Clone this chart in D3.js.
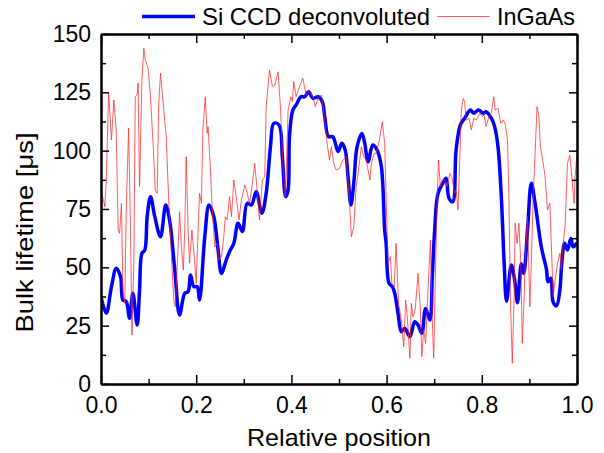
<!DOCTYPE html>
<html>
<head>
<meta charset="utf-8">
<script src="https://cdn.jsdelivr.net/npm/d3@7"></script>
<style>
  html, body { margin: 0; padding: 0; background: #fff; }
  svg { display: block; font-family: "Liberation Sans", Arial, sans-serif; }
</style>
</head>
<body>
<svg id="chart" width="604" height="453"></svg>
<script>
// ---- data ----
const seriesNames = ["Si CCD deconvoluted", "InGaAs"];
const xTicks = [0.0, 0.2, 0.4, 0.6, 0.8, 1.0];
const xMinorTicks = [0.1, 0.3, 0.5, 0.7, 0.9];
const yTicks = [0, 25, 50, 75, 100, 125, 150];
const yMinorTicks = [12.5, 37.5, 62.5, 87.5, 112.5, 137.5];

const siPos = [0.000,0.011,0.022,0.032,0.041,0.046,0.053,0.060,0.067,0.076,0.081,0.086,0.092,0.097,0.104,0.113,0.125,0.136,0.144,0.155,0.165,0.176,0.183,0.188,0.195,0.202,0.207,0.218,0.227,0.237,0.246,0.253,0.263,0.270,0.279,0.288,0.297,0.307,0.316,0.326,0.338,0.347,0.356,0.363,0.374,0.381,0.388,0.393,0.396,0.403,0.410,0.420,0.428,0.436,0.445,0.456,0.465,0.470,0.478,0.487,0.498,0.506,0.513,0.519,0.525,0.531,0.538,0.548,0.554,0.561,0.571,0.580,0.589,0.596,0.599,0.605,0.612,0.617,0.624,0.631,0.638,0.649,0.659,0.666,0.674,0.682,0.691,0.696,0.701,0.708,0.718,0.725,0.731,0.739,0.746,0.755,0.764,0.776,0.783,0.793,0.803,0.809,0.820,0.827,0.834,0.841,0.847,0.852,0.862,0.869,0.875,0.883,0.888,0.896,0.904,0.912,0.925,0.936,0.939,0.945,0.950,0.957,0.964,0.968,0.974,0.980,0.987,0.992,1.000];
const siLife = [37.4,30.3,41.7,49.6,46.0,36.0,35.3,28.2,38.9,25.3,40.3,56.0,57.4,71.7,80.3,71.7,63.1,76.7,70.3,48.9,29.6,38.9,39.6,46.7,41.7,41.7,36.0,63.1,76.7,71.7,57.4,47.4,53.1,56.7,60.3,68.9,65.3,77.4,76.7,82.4,73.2,81.7,101.7,111.7,111.0,97.4,80.3,83.1,106.0,117.4,119.6,123.1,123.1,125.3,122.4,123.1,121.0,114.6,106.0,106.0,99.6,103.2,100.3,88.8,76.7,86.0,101.7,107.4,103.2,95.3,102.4,100.3,93.1,66.0,60.3,43.2,41.7,38.9,30.3,22.4,23.9,20.3,26.7,25.3,21.7,32.4,27.4,46.0,66.0,81.7,86.0,88.2,79.6,78.1,100.3,111.0,113.9,117.4,116.0,117.4,116.0,116.7,113.9,110.3,101.7,80.3,51.7,35.5,51.0,44.6,34.8,51.5,47.4,66.0,86.0,77.4,58.8,48.9,43.8,45.3,35.0,33.5,40.3,51.7,60.3,57.4,62.4,58.8,60.5];

const ingaasPos = [0.000,0.002,0.008,0.011,0.016,0.022,0.027,0.032,0.036,0.039,0.043,0.046,0.050,0.053,0.058,0.062,0.065,0.069,0.072,0.076,0.078,0.081,0.086,0.090,0.093,0.099,0.104,0.109,0.114,0.118,0.121,0.125,0.130,0.137,0.142,0.148,0.153,0.156,0.162,0.165,0.169,0.173,0.176,0.179,0.183,0.186,0.191,0.197,0.200,0.204,0.207,0.211,0.214,0.219,0.223,0.225,0.230,0.233,0.239,0.244,0.248,0.253,0.258,0.261,0.265,0.270,0.274,0.279,0.284,0.290,0.295,0.302,0.307,0.312,0.318,0.323,0.328,0.333,0.339,0.344,0.347,0.354,0.360,0.365,0.372,0.377,0.382,0.387,0.389,0.393,0.399,0.402,0.405,0.410,0.417,0.424,0.431,0.438,0.445,0.450,0.456,0.463,0.470,0.475,0.480,0.484,0.489,0.494,0.501,0.508,0.515,0.520,0.526,0.531,0.536,0.541,0.547,0.552,0.557,0.565,0.568,0.574,0.578,0.585,0.591,0.596,0.598,0.603,0.608,0.611,0.616,0.620,0.625,0.631,0.636,0.640,0.643,0.649,0.652,0.655,0.660,0.666,0.671,0.674,0.678,0.682,0.687,0.692,0.696,0.699,0.702,0.706,0.709,0.713,0.717,0.722,0.727,0.733,0.737,0.743,0.746,0.750,0.754,0.757,0.761,0.764,0.767,0.773,0.778,0.783,0.788,0.796,0.801,0.805,0.809,0.815,0.820,0.825,0.828,0.834,0.840,0.845,0.849,0.854,0.857,0.860,0.864,0.868,0.870,0.874,0.878,0.882,0.885,0.889,0.891,0.896,0.901,0.904,0.908,0.912,0.916,0.920,0.923,0.929,0.933,0.938,0.943,0.946,0.950,0.954,0.959,0.964,0.967,0.971,0.975,0.980,0.985,0.989,0.994,0.996,1.000];
const ingaasLife = [78.9,81.7,76.0,87.4,124.6,104.6,121.7,108.9,66.0,64.6,77.4,40.3,34.6,74.6,109.6,66.0,21.0,51.7,123.1,123.9,128.9,84.6,130.3,143.9,138.9,135.3,123.1,104.6,83.1,81.7,118.8,133.2,121.7,106.0,80.3,54.6,36.0,33.1,58.8,73.8,58.8,48.9,66.0,97.4,66.0,51.7,66.0,51.7,43.2,66.0,81.7,77.4,108.9,123.1,107.4,110.3,91.7,77.4,58.8,60.3,53.1,54.6,63.1,71.7,70.3,80.3,71.7,87.4,80.3,70.3,78.9,85.3,81.7,77.4,86.0,94.6,83.1,70.3,87.4,88.8,118.8,134.6,127.4,128.1,133.8,118.8,94.6,80.3,88.8,117.4,123.1,121.0,129.6,123.1,127.4,131.0,123.9,126.0,123.1,118.8,122.4,123.9,113.1,103.2,96.0,101.7,94.6,91.7,92.4,96.0,97.4,84.6,63.1,67.4,84.6,91.7,101.7,97.4,96.0,87.4,94.6,98.9,98.9,104.6,112.4,103.2,87.4,51.7,54.6,43.2,41.7,60.3,34.6,27.4,16.0,36.0,30.3,11.0,34.6,28.8,31.7,47.4,31.7,11.7,23.1,17.4,40.3,61.7,27.4,11.0,41.7,77.4,96.0,84.6,87.4,87.4,84.6,90.3,88.8,81.7,83.1,74.6,97.4,117.4,122.4,121.0,113.1,113.9,108.9,113.9,113.1,116.0,114.6,115.3,110.3,114.6,116.0,123.1,117.4,118.2,111.7,113.1,111.7,104.6,80.3,37.4,8.9,37.4,68.9,60.3,68.9,51.7,17.4,37.4,51.7,71.7,33.1,51.7,80.3,98.9,118.8,114.6,101.7,94.6,88.8,74.6,77.4,60.3,37.4,44.6,51.7,56.0,48.9,60.3,67.4,94.6,98.1,88.8,77.4,88.8,98.9];

// ---- chart ----
const W = 604, H = 453;
const margin = { left: 101, right: 27, top: 34, bottom: 69 };
const iw = W - margin.left - margin.right;
const ih = H - margin.top - margin.bottom;
const FS = 23;

const svg = d3.select("#chart");
const g = svg.append("g").attr("transform", `translate(${margin.left},${margin.top})`);

const x = d3.scaleLinear().domain([0, 1]).range([0, iw]);
const y = d3.scaleLinear().domain([0, 150]).range([ih, 0]);

const siData = siPos.map((p, i) => ({ x: p, y: siLife[i] }));
const inData = ingaasPos.map((p, i) => ({ x: p, y: ingaasLife[i] }));

g.append("defs").append("clipPath").attr("id", "clip")
  .append("rect").attr("width", iw).attr("height", ih);

const plot = g.append("g").attr("clip-path", "url(#clip)");

const lineSi = d3.line().x(d => x(d.x)).y(d => y(d.y)).curve(d3.curveCatmullRom.alpha(0.5));
const lineIn = d3.line().x(d => x(d.x)).y(d => y(d.y)).curve(d3.curveLinear);

plot.append("path").datum(siData)
  .attr("d", lineSi).attr("fill", "none")
  .attr("stroke", "#0000ff").attr("stroke-width", 3.5)
  .attr("stroke-linejoin", "round");

plot.append("path").datum(inData)
  .attr("d", lineIn).attr("fill", "none")
  .attr("stroke", "#ff2020").attr("stroke-width", 0.9)
  .attr("stroke-opacity", 0.8)
  .attr("stroke-linejoin", "round");

// axes
function styleAxis(sel) {
  sel.selectAll(".domain").attr("stroke", "#000").attr("stroke-width", 2);
  sel.selectAll(".tick line").attr("stroke", "#000").attr("stroke-width", 1.5);
  sel.selectAll("text").attr("font-size", FS).attr("fill", "#000")
    .attr("font-family", '"Liberation Sans", Arial, sans-serif');
}

const fmtX = d3.format(".1f");

g.append("g").attr("transform", `translate(0,${ih})`)
  .call(d3.axisBottom(x).tickValues(xTicks).tickFormat(fmtX).tickSizeInner(-9).tickSizeOuter(0).tickPadding(13))
  .call(styleAxis);
g.append("g").attr("transform", `translate(0,${ih})`)
  .call(d3.axisBottom(x).tickValues(xMinorTicks).tickFormat("").tickSizeInner(-5).tickSizeOuter(0))
  .call(styleAxis);
g.append("g")
  .call(d3.axisTop(x).tickValues(xTicks).tickFormat("").tickSizeInner(-9).tickSizeOuter(0))
  .call(styleAxis);
g.append("g")
  .call(d3.axisTop(x).tickValues(xMinorTicks).tickFormat("").tickSizeInner(-5).tickSizeOuter(0))
  .call(styleAxis);

g.append("g")
  .call(d3.axisLeft(y).tickValues(yTicks).tickFormat(d3.format("d")).tickSizeInner(-8).tickSizeOuter(0).tickPadding(10))
  .call(styleAxis);
g.append("g")
  .call(d3.axisLeft(y).tickValues(yMinorTicks).tickFormat("").tickSizeInner(-5).tickSizeOuter(0))
  .call(styleAxis);
g.append("g").attr("transform", `translate(${iw},0)`)
  .call(d3.axisRight(y).tickValues(yTicks).tickFormat("").tickSizeInner(-8).tickSizeOuter(0))
  .call(styleAxis);
g.append("g").attr("transform", `translate(${iw},0)`)
  .call(d3.axisRight(y).tickValues(yMinorTicks).tickFormat("").tickSizeInner(-5).tickSizeOuter(0))
  .call(styleAxis);

// axis titles
svg.append("text")
  .attr("x", 339).attr("y", 446)
  .attr("text-anchor", "middle").attr("font-size", 24)
  .attr("textLength", 184).attr("lengthAdjust", "spacingAndGlyphs")
  .text("Relative position");

svg.append("text")
  .attr("transform", `translate(33,232.5) rotate(-90)`)
  .attr("text-anchor", "middle").attr("font-size", 24)
  .attr("textLength", 200).attr("lengthAdjust", "spacingAndGlyphs")
  .text("Bulk lifetime [μs]");

// legend
const legend = svg.append("g");
const legendItems = [
  { name: seriesNames[0], color: "#0000ff", width: 3.5, opacity: 1, x0: 142, x1: 195, tx: 202, len: 228 },
  { name: seriesNames[1], color: "#ff2020", width: 0.9, opacity: 0.8, x0: 437, x1: 490, tx: 497, len: 78 }
];
legendItems.forEach(it => {
  legend.append("line")
    .attr("x1", it.x0).attr("x2", it.x1).attr("y1", 16.5).attr("y2", 16.5)
    .attr("stroke", it.color).attr("stroke-width", it.width).attr("stroke-opacity", it.opacity);
  legend.append("text")
    .attr("x", it.tx).attr("y", 25).attr("font-size", 24)
    .attr("textLength", it.len).attr("lengthAdjust", "spacingAndGlyphs")
    .text(it.name);
});
</script>
</body>
</html>
